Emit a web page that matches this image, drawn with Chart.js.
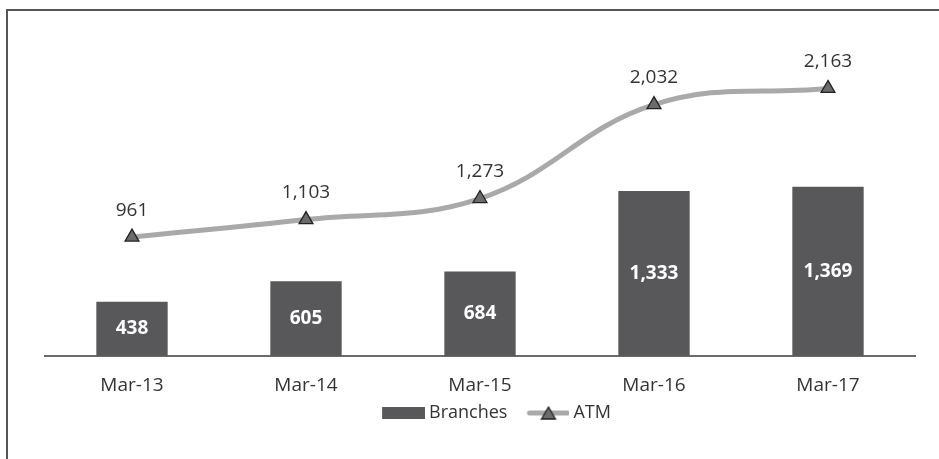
<!DOCTYPE html>
<html>
<head>
<meta charset="utf-8">
<script src="https://cdn.jsdelivr.net/npm/chart.js@4.4.1/dist/chart.umd.min.js"></script>
<style>
  html, body { margin: 0; padding: 0; background: #fff; overflow: hidden; }
  #frame {
    position: absolute; left: 6px; top: 9px;
    width: 931px; height: 448px;
    border-left: 2px solid #555; border-top: 2px solid #555;
  }
  #wrap { position: relative; width: 931px; height: 448px; }
</style>
</head>
<body>
<div id="frame"><div id="wrap"><canvas id="chart"></canvas></div></div>
<script>
const categories = ['Mar-13', 'Mar-14', 'Mar-15', 'Mar-16', 'Mar-17'];
const branches = [438, 605, 684, 1333, 1369];
const atms = [961, 1103, 1273, 2032, 2163];

const barColor = '#58585a';
const lineColor = '#a9a9ab';
const markerFill = '#6b6b6d';
const fontFamily = "'Open Sans', 'Noto Sans', sans-serif";

// legend icons: 61px canvas, the visible 43px symbol sits at its right end
function legendIcon(kind) {
    const c = document.createElement('canvas');
    c.width = 61; c.height = 16;
    const g = c.getContext('2d');
    if (kind === 'bar') {
        g.fillStyle = barColor;
        g.fillRect(18, 2, 43, 12);
    } else {
        g.strokeStyle = lineColor;
        g.lineWidth = 5;
        g.lineCap = 'round';
        g.beginPath(); g.moveTo(21, 8); g.lineTo(59, 8); g.stroke();
        g.fillStyle = markerFill;
        g.strokeStyle = '#222';
        g.lineWidth = 1.3;
        g.beginPath(); g.moveTo(40, 2); g.lineTo(47, 14); g.lineTo(33, 14); g.closePath();
        g.fill(); g.stroke();
    }
    return c;
}
const icons = [legendIcon('bar'), legendIcon('line')];

const valueLabels = {
    id: 'valueLabels',
    afterDatasetsDraw(chart) {
        const ctx = chart.ctx;
        ctx.save();
        ctx.textAlign = 'center';
        ctx.textBaseline = 'middle';
        chart.data.datasets.forEach((ds, i) => {
            const meta = chart.getDatasetMeta(i);
            meta.data.forEach((el, j) => {
                const txt = ds.data[j].toLocaleString('en-US');
                if (ds.type === 'bar') {
                    ctx.font = 'bold 19px ' + fontFamily;
                    ctx.fillStyle = '#fff';
                    ctx.fillText(txt, el.x, (el.y + el.base) / 2);
                } else {
                    ctx.font = '19px ' + fontFamily;
                    ctx.fillStyle = '#333';
                    ctx.fillText(txt, el.x, el.y - 27);
                }
            });
        });
        ctx.restore();
    }
};

// nudge the legend row a little right, as in the original
const legendShift = {
    id: 'legendShift',
    afterLayout(chart) {
        if (chart.legend) {
            chart.legend.left += 10;
            chart.legend.right += 10;
        }
    }
};

const ctx = document.getElementById('chart').getContext('2d');
const chart = new Chart(ctx, {
    data: {
        labels: categories,
        datasets: [
            {
                type: 'line',
                label: 'ATM',
                data: atms,
                order: 0,
                borderColor: lineColor,
                borderWidth: 5,
                tension: 0.4,
                pointStyle: 'triangle',
                pointRadius: 8,
                pointBackgroundColor: markerFill,
                pointBorderColor: '#222',
                pointBorderWidth: 1.3
            },
            {
                type: 'bar',
                label: 'Branches',
                data: branches,
                order: 1,
                backgroundColor: barColor,
                categoryPercentage: 1,
                barPercentage: 0.41
            }
        ]
    },
    options: {
        responsive: true,
        maintainAspectRatio: false,
        animation: false,
        layout: { padding: { left: 37, right: 24, top: 11, bottom: 27 } },
        scales: {
            x: {
                grid: { display: false, drawTicks: false },
                border: { color: '#6b6b6b', width: 2 },
                ticks: { color: '#333', padding: 18, font: { family: fontFamily, size: 19 } },
                afterFit: scale => { scale.height = 42; }
            },
            y: {
                display: false,
                min: 0,
                max: 2700
            }
        },
        plugins: {
            tooltip: { enabled: false },
            legend: {
                position: 'bottom',
                labels: {
                    usePointStyle: true,
                    pointStyleWidth: 51,
                    padding: 6,
                    color: '#333',
                    font: { family: fontFamily, size: 18 },
                    generateLabels: c => [1, 0].map((i, k) => ({
                        text: c.data.datasets[i].label,
                        pointStyle: icons[k],
                        fillStyle: barColor,
                        strokeStyle: barColor,
                        lineWidth: 0,
                        hidden: false,
                        fontColor: '#333',
                        datasetIndex: i
                    }))
                }
            }
        }
    },
    plugins: [valueLabels, legendShift]
});
</script>
</body>
</html>
